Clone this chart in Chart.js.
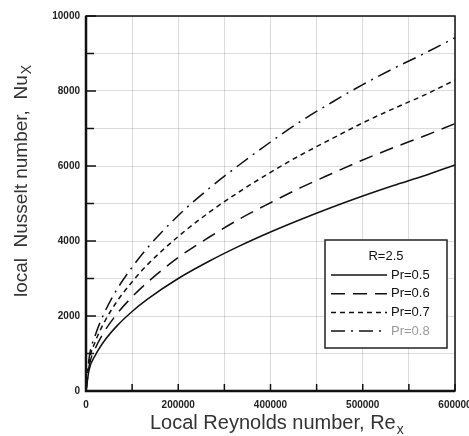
<!DOCTYPE html>
<html>
<head>
<meta charset="utf-8">
<script src="https://cdn.jsdelivr.net/npm/chart.js@4/dist/chart.umd.min.js"></script>
<style>
  html, body { margin: 0; padding: 0; background: #fff; }
  #wrap { width: 469px; height: 436px; }
</style>
</head>
<body>
<div id="wrap"><canvas id="c" width="469" height="436"></canvas></div>
<script>
// Local Reynolds number along the plate
const reynolds = [0, 5000, 15000, 30000, 50000, 75000, 100000, 150000, 200000,
                  250000, 300000, 350000, 400000, 450000, 500000, 550000, 600000];

// Local Nusselt number for R = 2.5 at four Prandtl numbers
const nuPr05 = [0, 560, 950, 1340, 1730, 2120, 2450, 3000, 3460,
                3870, 4240, 4580, 4900, 5200, 5480, 5740, 6030];
const nuPr06 = [0, 660, 1130, 1590, 2050, 2510, 2900, 3560, 4100,
                4590, 5020, 5430, 5800, 6160, 6490, 6800, 7130];
const nuPr07 = [0, 770, 1310, 1840, 2380, 2910, 3370, 4120, 4760,
                5320, 5830, 6300, 6730, 7150, 7530, 7890, 8290];
const nuPr08 = [0, 870, 1480, 2090, 2700, 3300, 3820, 4680, 5400,
                6040, 6640, 7200, 7700, 8170, 8600, 9000, 9420];

const seriesLabels = ['Pr=0.5', 'Pr=0.6', 'Pr=0.7', 'Pr=0.8'];
const legendTitle = 'R=2.5';

// Axis tick labels (every other tick carries a label)
const xTickLabels = ['0', '200000', '400000', '500000', '600000'];
const yTickLabels = ['0', '2000', '4000', '6000', '8000', '10000'];

const FONT = "'Liberation Sans', Arial, sans-serif";

function pts(ys) { return reynolds.map((x, i) => ({ x: x, y: ys[i] })); }

const styles = [
  { dash: [], text: '#111' },
  { dash: [14, 8], text: '#111' },
  { dash: [5, 4], text: '#111' },
  { dash: [14, 6, 2, 6], text: '#9a9a9a' }
];
const allSeries = [nuPr05, nuPr06, nuPr07, nuPr08];

const datasets = allSeries.map((ys, i) => ({
  label: seriesLabels[i],
  data: pts(ys),
  borderColor: '#111',
  borderWidth: 1.5,
  borderDash: styles[i].dash,
  pointRadius: 0,
  cubicInterpolationMode: 'monotone',
  fill: false
}));

// Frame, inward tick marks, legend box and axis titles
const decor = {
  id: 'decor',
  afterDatasetsDraw(chart) {
    const ctx = chart.ctx;
    const a = chart.chartArea;
    const xs = chart.scales.x, ys = chart.scales.y;
    ctx.save();
    // inward ticks
    ctx.strokeStyle = '#111';
    ctx.lineWidth = 1.5;
    xs.ticks.forEach((t) => {
      const px = xs.getPixelForValue(t.value);
      ctx.beginPath(); ctx.moveTo(px, a.bottom); ctx.lineTo(px, a.bottom - 7); ctx.stroke();
    });
    ys.ticks.forEach((t, i) => {
      const py = ys.getPixelForValue(t.value);
      const len = (i % 2 === 0) ? 10 : 8;
      ctx.beginPath(); ctx.moveTo(a.left, py); ctx.lineTo(a.left + len, py); ctx.stroke();
    });
    // frame
    ctx.lineWidth = 1.5;
    ctx.strokeRect(a.left, a.top, a.right - a.left, a.bottom - a.top);
    ctx.lineWidth = 2.5;
    ctx.beginPath();
    ctx.moveTo(a.left, a.top); ctx.lineTo(a.left, a.bottom); ctx.lineTo(a.right, a.bottom);
    ctx.stroke();

    // legend
    const bx = a.left + 239, by = a.top + 224, bw = 122, bh = 108;
    ctx.fillStyle = '#fff';
    ctx.fillRect(bx, by, bw, bh);
    ctx.lineWidth = 1.5;
    ctx.strokeStyle = '#222';
    ctx.strokeRect(bx, by, bw, bh);
    ctx.font = '13px ' + FONT;
    ctx.fillStyle = '#111';
    ctx.textAlign = 'center';
    ctx.textBaseline = 'middle';
    ctx.fillText(legendTitle, bx + bw / 2, by + 16);
    ctx.textAlign = 'left';
    chart.data.datasets.forEach((ds, i) => {
      const yy = by + 35 + i * 18.7;
      ctx.strokeStyle = '#111';
      ctx.lineWidth = 1.5;
      ctx.setLineDash(ds.borderDash || []);
      ctx.beginPath(); ctx.moveTo(bx + 6, yy); ctx.lineTo(bx + 62, yy); ctx.stroke();
      ctx.setLineDash([]);
      ctx.fillStyle = styles[i].text;
      ctx.fillText(ds.label, bx + 66, yy);
    });

    // axis titles with subscripts
    ctx.fillStyle = '#333';
    ctx.textBaseline = 'alphabetic';
    const main = '20px ' + FONT, sub = '14px ' + FONT;
    // x title
    const xt = 'Local Reynolds number, Re';
    ctx.font = main;
    const w1 = ctx.measureText(xt).width;
    ctx.font = sub;
    const w2 = ctx.measureText('x').width;
    let sx = 150;
    ctx.font = main; ctx.textAlign = 'left';
    ctx.fillText(xt, sx, 429);
    ctx.font = sub;
    ctx.fillText('x', sx + w1 + 1, 434);
    // y title
    ctx.translate(27, (a.top + a.bottom) / 2 - 22);
    ctx.rotate(-Math.PI / 2);
    const yt = 'local  Nusselt number,  Nu';
    ctx.font = '19px ' + FONT;
    const v1 = ctx.measureText(yt).width;
    ctx.font = sub;
    const v2 = ctx.measureText('X').width;
    let sy = -(v1 + v2) / 2;
    ctx.font = '19px ' + FONT;
    ctx.fillText(yt, sy, 0);
    ctx.font = sub;
    ctx.fillText('X', sy + v1 + 1, 4);
    ctx.restore();
  }
};

new Chart(document.getElementById('c'), {
  type: 'line',
  data: { datasets: datasets },
  plugins: [decor],
  options: {
    responsive: false,
    animation: false,
    layout: { padding: { left: 0, right: 14, top: 16, bottom: 0 } },
    plugins: { legend: { display: false }, tooltip: { enabled: false } },
    scales: {
      x: {
        type: 'linear',
        min: 0, max: 600000,
        border: { display: false },
        grid: { color: 'rgba(0,0,0,0.14)', lineWidth: 1, drawTicks: false },
        ticks: {
          stepSize: 75000,
          autoSkip: false,
          maxRotation: 0,
          padding: 8,
          color: '#222',
          font: { family: FONT, size: 10, weight: 'bold' },
          callback: (v, i) => (i % 2 === 0 ? xTickLabels[i / 2] : '')
        },
        afterFit(s) { s.height = 45; s.paddingLeft = 0; s.paddingRight = 0; }
      },
      y: {
        min: 0, max: 10000,
        border: { display: false },
        grid: { color: 'rgba(0,0,0,0.14)', lineWidth: 1, drawTicks: false },
        ticks: {
          stepSize: 1000,
          autoSkip: false,
          padding: 6,
          color: '#222',
          font: { family: FONT, size: 10, weight: 'bold' },
          callback: (v, i) => (i % 2 === 0 ? yTickLabels[i / 2] : '')
        },
        afterFit(s) { s.width = 86; s.paddingTop = 0; s.paddingBottom = 0; }
      }
    }
  }
});
</script>
</body>
</html>
